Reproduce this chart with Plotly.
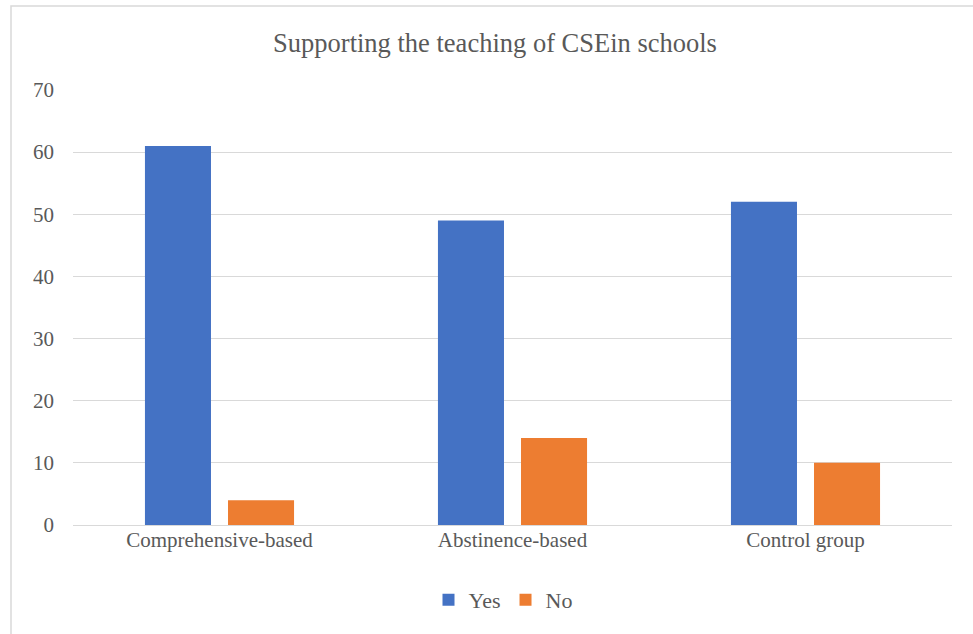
import plotly.graph_objects as go

categories = ["Comprehensive-based", "Abstinence-based", "Control group"]
yes_values = [61, 49, 52]
no_values = [4, 14, 10]
y_ticks = [0, 10, 20, 30, 40, 50, 60, 70]
title_text = "Supporting the teaching of CSEin schools"

FONT = "Liberation Serif"
GRAY = "#595959"

fig = go.Figure()
fig.add_trace(go.Bar(name="Yes", x=categories, y=yes_values, marker_color="#4472C4",
                     marker_line_width=0))
fig.add_trace(go.Bar(name="No", x=categories, y=no_values, marker_color="#ED7D31",
                     marker_line_width=0))

L, R, T, B = 73, 21, 90, 109
W, H = 973, 634
pw, ph = W - L - R, H - T - B

def px_x(p):
    return (p - L) / pw

def px_y(p):
    return (H - B - p) / ph

fig.update_layout(
    width=W, height=H,
    margin=dict(l=L, r=R, t=T, b=B, pad=0),
    paper_bgcolor="white", plot_bgcolor="white",
    barmode="group", bargap=0.433, bargroupgap=0.205,
    title=dict(text=title_text, x=495 / W, xanchor="center", y=1 - 43 / H, yanchor="middle",
               font=dict(family=FONT, size=26.5, color=GRAY)),
    font=dict(family=FONT, color=GRAY),
    legend=dict(orientation="h", x=px_x(503), xanchor="center", y=px_y(600), yanchor="middle",
                font=dict(family=FONT, size=22, color=GRAY), itemwidth=30,
                traceorder="normal"),
    xaxis=dict(showgrid=False, showline=False, ticks="", zeroline=False,
               tickfont=dict(family=FONT, size=21, color=GRAY)),
    yaxis=dict(range=[0, 70], tickvals=y_ticks, showgrid=True, gridcolor="#D9D9D9",
               gridwidth=1.3, zeroline=True, zerolinecolor="#D9D9D9", zerolinewidth=1.3,
               showline=False, ticks="", ticklabelstandoff=18,
               tickfont=dict(family=FONT, size=21, color=GRAY)),
    shapes=[dict(type="rect", xref="paper", yref="paper",
                 x0=px_x(11), x1=px_x(1200), y0=px_y(900), y1=px_y(6),
                 line=dict(color="#D9D9D9", width=1.5), layer="below")],
)

fig.write_html("out.html")
